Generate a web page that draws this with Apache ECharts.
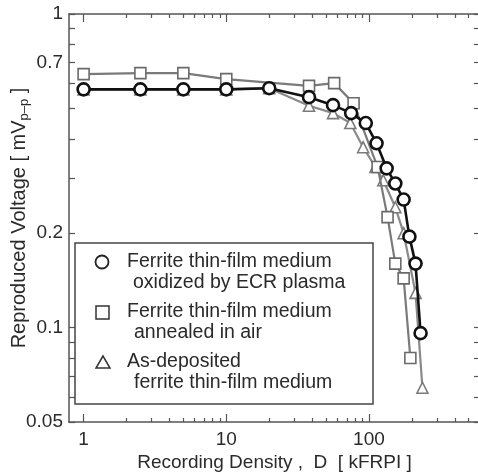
<!DOCTYPE html>
<html>
<head>
<meta charset="utf-8">
<script src="https://cdn.jsdelivr.net/npm/echarts@6/dist/echarts.min.js"></script>
<style>html,body{margin:0;padding:0;background:#fff;}#c{width:478px;height:473px;}</style>
</head>
<body>
<div id="c"></div>
<script>
// ---- data ----
var ecrX = [1, 2.5, 5, 10, 20, 38, 56, 75, 95, 113, 133, 153, 175, 192, 212, 230];
var ecrY = [0.575, 0.575, 0.575, 0.575, 0.58, 0.543, 0.512, 0.483, 0.449, 0.387, 0.322, 0.288, 0.256, 0.195, 0.16, 0.096];
var annX = [1, 2.5, 5, 10, 38, 57, 78, 115, 135, 153, 175, 195];
var annY = [0.643, 0.648, 0.648, 0.62, 0.59, 0.602, 0.519, 0.325, 0.225, 0.16, 0.1435, 0.08];
var depX = [1, 2.5, 5, 10, 20, 38, 56, 74, 91, 111, 126, 153, 175, 212, 237];
var depY = [0.575, 0.575, 0.575, 0.575, 0.58, 0.51, 0.483, 0.449, 0.376, 0.325, 0.295, 0.242, 0.2, 0.129, 0.0643];

var xMajorTicks = [1, 10, 100];
var xMinorTicks = [2, 3, 4, 5, 6, 7, 8, 9, 20, 30, 40, 50, 60, 70, 80, 90, 200, 300, 400, 500];
var yLabelTicks = [0.05, 0.1, 0.2, 0.7, 1];
var yMinorTicks = [0.06, 0.07, 0.08, 0.09, 0.3, 0.4, 0.5, 0.6, 0.8, 0.9];

var legendLines = [
  ['Ferrite thin-film medium', 'oxidized by ECR plasma'],
  ['Ferrite thin-film medium', 'annealed in air'],
  ['As-deposited', 'ferrite thin-film medium']
];

function zip(xs, ys) { return xs.map(function (x, i) { return [x, ys[i]]; }); }

var FONT = '"Liberation Sans", Arial, sans-serif';
var AX = '#555';
var TXT = '#2a2a2a';

function xAx(pos, ticks, len, showLine, showLabel) {
  return {
    type: 'log', logBase: 10, min: 0.79, max: 600, position: pos,
    axisLine: { show: showLine, onZero: false, lineStyle: { color: AX, width: 1.5 } },
    axisTick: { show: true, inside: true, length: len, customValues: ticks, lineStyle: { color: AX, width: 1.2 } },
    axisLabel: showLabel ? { show: true, customValues: xMajorTicks, margin: 8, fontSize: 19, fontFamily: FONT, color: TXT,
      formatter: function (v) { return String(Math.round(v)); } } : { show: false },
    splitLine: { show: false }, minorTick: { show: false }
  };
}
function yAx(pos, ticks, len, showLine, showLabel) {
  return {
    type: 'log', logBase: 10, min: 0.05, max: 1, position: pos,
    axisLine: { show: showLine, onZero: false, lineStyle: { color: AX, width: 1.5 } },
    axisTick: { show: true, inside: true, length: len, customValues: ticks, lineStyle: { color: AX, width: 1.2 } },
    axisLabel: showLabel ? { show: true, customValues: yLabelTicks, margin: 6, fontSize: 19, fontFamily: FONT, color: TXT,
      formatter: function (v) { return String(v); } } : { show: false },
    splitLine: { show: false }, minorTick: { show: false }
  };
}

var xAxes = [
  xAx('bottom', xMajorTicks, 8, true, true),
  xAx('bottom', xMinorTicks, 4, false, false),
  xAx('top', xMajorTicks, 8, true, false),
  xAx('top', xMinorTicks, 4, false, false)
];
xAxes[0].name = 'Recording Density ,  D  [ kFRPI ]';
xAxes[0].nameLocation = 'middle';
xAxes[0].nameGap = 31;
xAxes[0].nameMoveOverlap = false;
xAxes[0].nameTextStyle = { fontSize: 19, fontFamily: FONT, color: TXT };

var yAxes = [
  yAx('left', yLabelTicks, 6, true, true),
  yAx('left', yMinorTicks, 6, false, false),
  yAx('right', yLabelTicks, 6, false, false),
  yAx('right', yMinorTicks, 6, false, false)
];
yAxes[0].name = 'Reproduced Voltage [ mV{sub|p–p} ]';
yAxes[0].nameLocation = 'middle';
yAxes[0].nameRotate = 90;
yAxes[0].nameGap = 38;
yAxes[0].nameMoveOverlap = false;
yAxes[0].nameTextStyle = { fontSize: 20, fontFamily: FONT, color: TXT,
  rich: { sub: { fontSize: 13, fontFamily: FONT, color: TXT, padding: [10, 0, 0, 0] } } };

var LF = '19.5px ' + FONT;

var chart = echarts.init(document.getElementById('c'), null, { renderer: 'canvas' });
chart.setOption({
  backgroundColor: '#fff',
  animation: false,
  grid: { left: 69, right: -2, top: 14, bottom: 51, containLabel: false, outerBoundsMode: 'none' },
  xAxis: xAxes,
  yAxis: yAxes,
  series: [
    { name: 'dep', type: 'line', data: zip(depX, depY), symbol: 'triangle', symbolSize: 11,
      itemStyle: { color: '#fff', borderColor: '#7a7a7a', borderWidth: 1.6 },
      lineStyle: { color: '#8a8a8a', width: 2.2 }, z: 2 },
    { name: 'ann', type: 'line', data: zip(annX, annY), symbol: 'rect', symbolSize: 11,
      itemStyle: { color: '#fff', borderColor: '#6a6a6a', borderWidth: 1.6 },
      lineStyle: { color: '#7a7a7a', width: 2.2 }, z: 3 },
    { name: 'ecr', type: 'line', data: zip(ecrX, ecrY), symbol: 'circle', symbolSize: 12,
      itemStyle: { color: '#fff', borderColor: '#111', borderWidth: 2.6 },
      lineStyle: { color: '#111', width: 2.6 }, z: 4 }
  ],
  graphic: [
    { type: 'rect', shape: { x: 75, y: 243, width: 298, height: 161 },
      style: { fill: '#fff', stroke: '#444', lineWidth: 1.5 }, z: 10 },
    { type: 'circle', shape: { cx: 102, cy: 262, r: 6.5 }, style: { fill: '#fff', stroke: '#222', lineWidth: 1.8 }, z: 11 },
    { type: 'rect', shape: { x: 96, y: 306, width: 13, height: 13 }, style: { fill: '#fff', stroke: '#333', lineWidth: 1.5 }, z: 11 },
    { type: 'polygon', shape: { points: [[103, 356], [96, 368], [110, 368]] }, style: { fill: '#fff', stroke: '#333', lineWidth: 1.5 }, z: 11 },
    { type: 'text', x: 127, y: 262, style: { text: legendLines[0][0], font: LF, fill: TXT, verticalAlign: 'middle' }, z: 11 },
    { type: 'text', x: 133, y: 283, style: { text: legendLines[0][1], font: LF, fill: TXT, verticalAlign: 'middle' }, z: 11 },
    { type: 'text', x: 127, y: 312, style: { text: legendLines[1][0], font: LF, fill: TXT, verticalAlign: 'middle' }, z: 11 },
    { type: 'text', x: 134, y: 333, style: { text: legendLines[1][1], font: LF, fill: TXT, verticalAlign: 'middle' }, z: 11 },
    { type: 'text', x: 127, y: 362, style: { text: legendLines[2][0], font: LF, fill: TXT, verticalAlign: 'middle' }, z: 11 },
    { type: 'text', x: 134, y: 383, style: { text: legendLines[2][1], font: LF, fill: TXT, verticalAlign: 'middle' }, z: 11 }
  ]
});
</script>
</body>
</html>
